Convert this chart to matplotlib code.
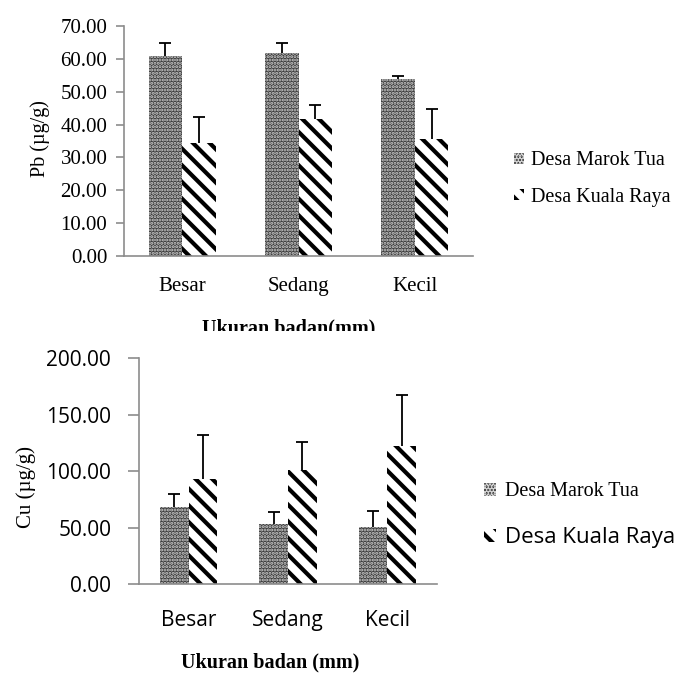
import matplotlib
matplotlib.use("Agg")
import matplotlib.pyplot as plt
import numpy as np

# body size classes and the two sampling villages
sizes = ["Besar", "Sedang", "Kecil"]
villages = ["Desa Marok Tua", "Desa Kuala Raya"]

# Pb concentration (ug/g) with standard deviation
pb_marok = [60.9, 61.9, 53.9]
pb_marok_sd = [4.0, 3.0, 0.9]
pb_kuala = [34.4, 41.8, 35.6]
pb_kuala_sd = [8.0, 4.2, 9.1]

# Cu concentration (ug/g) with standard deviation
cu_marok = [68.0, 53.0, 50.5]
cu_marok_sd = [11.5, 11.0, 14.0]
cu_kuala = [92.8, 100.8, 122.0]
cu_kuala_sd = [39.0, 25.0, 45.0]

W, H = 678, 677
SERIF = "Liberation Serif"
SANS = "Open Sans"
plt.rcParams["font.family"] = SERIF

fig = plt.figure(figsize=(W / 100, H / 100), dpi=100)


def px_axes(x0, y0, x1, y1):
    # axes box given in pixel coordinates (origin top-left)
    return fig.add_axes([x0 / W, 1 - y1 / H, (x1 - x0) / W, (y1 - y0) / H])


def draw_bars(ax, marok, marok_sd, kuala, kuala_sd):
    x = np.arange(len(sizes))
    bw = 0.288
    # symmetric error bars sit behind the bars, so only the upper half shows
    for xs, v, e in ((x - bw / 2, marok, marok_sd), (x + bw / 2, kuala, kuala_sd)):
        ax.errorbar(xs, v, yerr=e, fmt="none", ecolor="black",
                    elinewidth=1.3, capsize=4.5, capthick=1.3, zorder=1)
    plt.rcParams["hatch.linewidth"] = 1.5
    b1 = ax.bar(x - bw / 2, marok, bw, color="#3c3c3c", edgecolor="#cfcfcf",
                hatch=".....", linewidth=0, label=villages[0], zorder=2)
    plt.rcParams["hatch.linewidth"] = 3.0
    b2 = ax.bar(x + bw / 2, kuala, bw, color="white", edgecolor="black",
                hatch="\\\\", linewidth=0, label=villages[1], zorder=2)
    ax.set_xlim(-0.5, 2.5)
    ax.set_xticks(x)
    for s in ("top", "right"):
        ax.spines[s].set_visible(False)
    for s in ("left", "bottom"):
        ax.spines[s].set_color("#8c8c8c")
        ax.spines[s].set_linewidth(1.2)
        ax.spines[s].set_zorder(3)
    ax.tick_params(axis="x", length=0)
    ax.tick_params(axis="y", color="#8c8c8c", width=1.2)
    return b1, b2


# ---- Pb panel ----
ax1 = px_axes(124, 26, 473, 256)
b1, b2 = draw_bars(ax1, pb_marok, pb_marok_sd, pb_kuala, pb_kuala_sd)
ax1.set_ylim(0, 70)
ax1.set_yticks(np.arange(0, 71, 10))
ax1.set_yticklabels([f"{v:.2f}" for v in np.arange(0, 71, 10)],
                    fontsize=15, family=SERIF)
ax1.set_xticklabels(sizes, fontsize=15, family=SERIF)
ax1.tick_params(axis="x", pad=15)
ax1.tick_params(axis="y", length=6, pad=6)
fig.text(40 / W, 1 - 139 / H, "Pb (µg/g)", rotation=90, ha="center",
         va="center", fontsize=14.5, family=SERIF)
leg1 = fig.legend([b1, b2], villages, loc="center left",
                  bbox_to_anchor=(496 / W, 1 - 179 / H), frameon=False,
                  handlelength=0.5, handleheight=0.5, handletextpad=0.35,
                  labelspacing=0.85, prop={"family": SERIF, "size": 14.5})
fig.text(289 / W, 1 - 328 / H, "Ukuran badan(mm)", ha="center",
         va="center", fontsize=14.5, fontweight="bold", family=SERIF)
# the lower panel covers the bottom half of this label
cover = plt.Rectangle((0, 0), 1, 1 - 331 / H, transform=fig.transFigure,
                      facecolor="white", edgecolor="none", zorder=5)
fig.add_artist(cover)

# ---- Cu panel ----
ax2 = px_axes(139, 358, 437, 584)
ax2.set_zorder(6)
c1, c2 = draw_bars(ax2, cu_marok, cu_marok_sd, cu_kuala, cu_kuala_sd)
ax2.set_ylim(0, 200)
ax2.set_yticks(np.arange(0, 201, 50))
ax2.set_yticklabels([f"{v:.2f}" for v in np.arange(0, 201, 50)],
                    fontsize=15, family=SANS)
ax2.set_xticklabels(sizes, fontsize=15, family=SANS)
ax2.tick_params(axis="x", pad=19)
ax2.tick_params(axis="y", length=8, pad=12)
t = fig.text(26 / W, 1 - 487 / H, "Cu (µg/g)", rotation=90, ha="center",
             va="center", fontsize=15, family=SERIF)
t.set_zorder(7)
leg2 = fig.legend([c1, c2], villages, loc="center left",
                  bbox_to_anchor=(466 / W, 1 - 515 / H), frameon=False,
                  handlelength=0.6, handleheight=0.6, handletextpad=0.45,
                  labelspacing=1.25, prop={"family": SERIF, "size": 14.5})
leg2.get_texts()[1].set_fontfamily(SANS)
leg2.get_texts()[1].set_fontsize(16)
leg2.set_zorder(7)
xl2 = fig.text(270 / W, 1 - 662 / H, "Ukuran badan (mm)", ha="center",
               va="center", fontsize=14.5, fontweight="bold", family=SERIF)
xl2.set_zorder(7)

fig.savefig("out.png", dpi=100)
